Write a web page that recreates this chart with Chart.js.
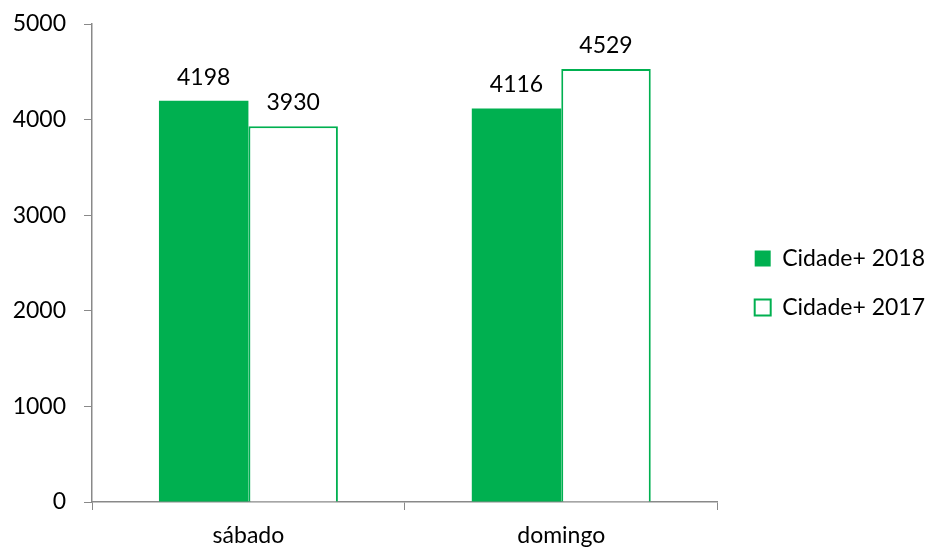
<!DOCTYPE html>
<html>
<head>
    <meta charset="utf-8">
    <title>Cidade+ 2018 vs 2017</title>
    <script src="https://cdn.jsdelivr.net/npm/chart.js"></script>
    <style>
        body { margin: 0; background: #fff; }
        #wrap { width: 931px; height: 550px; }
    </style>
</head>
<body>
    <div id="wrap"><canvas id="myChart"></canvas></div>
    <script>
        var categories = ['sábado', 'domingo'];
        var values2018 = [4198, 4116];
        var values2017 = [3930, 4529];
        var yTicks = [0, 1000, 2000, 3000, 4000, 5000];

        var green = '#00B050';
        var axisGray = '#898989';
        var fontName = 'Lato, "Open Sans", sans-serif';
        var fontSize = 23;

        // writes the value above each bar
        var valueLabels = {
            id: 'valueLabels',
            afterDatasetsDraw: function(chart) {
                var ctx = chart.ctx;
                ctx.save();
                ctx.font = fontSize + 'px ' + fontName;
                ctx.fillStyle = '#000';
                ctx.textAlign = 'center';
                ctx.textBaseline = 'bottom';
                chart.data.datasets.forEach(function(ds, i) {
                    chart.getDatasetMeta(i).data.forEach(function(bar, j) {
                        ctx.fillText(ds.data[j], bar.x, bar.y - 12);
                    });
                });
                ctx.restore();
            }
        };

        // nudges the legend a bit further from the plot, like the original
        var legendShift = {
            id: 'legendShift',
            afterLayout: function(chart) {
                var lg = chart.legend;
                if (!lg || lg._shifted) return;
                var draw = lg.draw;
                lg.draw = function() {
                    this.ctx.save();
                    this.ctx.translate(11, -4);
                    draw.apply(this, arguments);
                    this.ctx.restore();
                };
                lg._shifted = true;
            }
        };

        var ctx = document.getElementById('myChart').getContext('2d');
        var myChart = new Chart(ctx, {
            type: 'bar',
            data: {
                labels: categories,
                datasets: [{
                    label: 'Cidade+ 2018',
                    data: values2018,
                    backgroundColor: green,
                    borderColor: green,
                    borderWidth: 0
                }, {
                    label: 'Cidade+ 2017',
                    data: values2017,
                    backgroundColor: '#ffffff',
                    borderColor: green,
                    borderWidth: 2
                }]
            },
            options: {
                responsive: true,
                maintainAspectRatio: false,
                animation: false,
                categoryPercentage: 0.572,
                barPercentage: 1,
                layout: { padding: { top: 24, right: 7, left: 0, bottom: 0 } },
                plugins: {
                    tooltip: { enabled: false },
                    legend: {
                        position: 'right',
                        labels: {
                            boxWidth: 16,
                            boxHeight: 16,
                            padding: 26,
                            color: '#000',
                            font: { family: fontName, size: fontSize },
                            generateLabels: function(chart) {
                                return chart.data.datasets.map(function(ds, i) {
                                    return {
                                        text: ds.label,
                                        fillStyle: ds.backgroundColor,
                                        strokeStyle: green,
                                        lineWidth: i === 0 ? 0 : 2,
                                        datasetIndex: i,
                                        fontColor: '#000'
                                    };
                                });
                            }
                        }
                    }
                },
                scales: {
                    x: {
                        grid: {
                            display: true,
                            drawOnChartArea: false,
                            tickLength: 8,
                            color: axisGray,
                            offset: true
                        },
                        border: { color: axisGray, width: 1.5 },
                        ticks: {
                            color: '#000',
                            padding: 12,
                            font: { family: fontName, size: fontSize }
                        },
                        afterFit: function(axis) {
                            axis.height = 48;
                            axis.paddingLeft = 0;
                            axis.paddingRight = 0;
                        }
                    },
                    y: {
                        min: 0,
                        max: 5000,
                        afterBuildTicks: function(axis) {
                            axis.ticks = yTicks.map(function(v) { return { value: v }; });
                        },
                        afterFit: function(axis) {
                            axis.width = 92;
                            axis.paddingTop = 0;
                            axis.paddingBottom = 0;
                        },
                        grid: {
                            display: true,
                            drawOnChartArea: false,
                            tickLength: 8,
                            color: axisGray
                        },
                        border: { color: axisGray, width: 1.5 },
                        ticks: {
                            color: '#000',
                            padding: 18,
                            font: { family: fontName, size: fontSize },
                            callback: function(value) { return String(value); }
                        }
                    }
                }
            },
            plugins: [valueLabels, legendShift]
        });
    </script>
</body>
</html>
